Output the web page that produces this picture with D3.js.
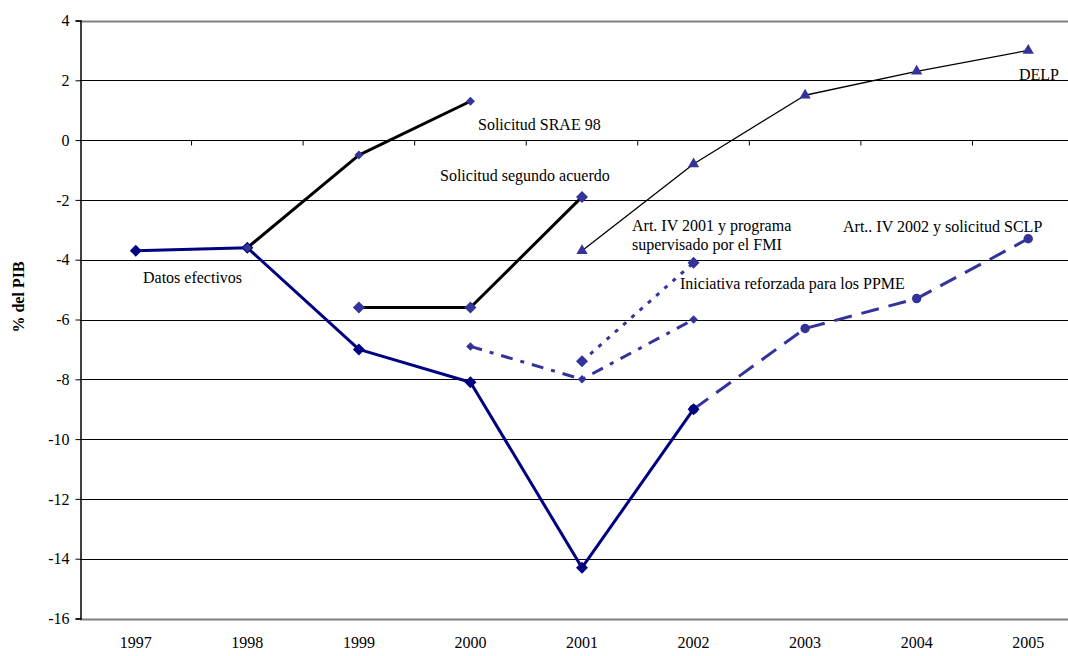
<!DOCTYPE html>
<html><head><meta charset="utf-8">
<script src="https://cdn.jsdelivr.net/npm/d3@7"></script>
<style>body{margin:0;background:#fff}svg{display:block}text{font-family:"Liberation Serif","Times New Roman",serif}</style>
</head><body><svg id="c" width="1068" height="656"></svg>
<script>
const years = ["1997","1998","1999","2000","2001","2002","2003","2004","2005"];
const yTicks = [4,2,0,-2,-4,-6,-8,-10,-12,-14,-16];
const datosEfectivos = [-3.7,-3.6,-7.0,-8.1,-14.3,-9.0,null,null,null];
const srae98 = [null,-3.6,-0.5,1.3,null,null,null,null,null];
const segundoAcuerdo = [null,null,-5.6,-5.6,-1.9,null,null,null,null];
const delp = [null,null,null,null,-3.7,-0.8,1.5,2.3,3.0];
const artIV2001 = [null,null,null,null,-7.4,-4.1,null,null,null];
const iniciativa = [null,null,null,-6.9,-8.0,-6.0,null,null,null];
const artIV2002 = [null,null,null,null,null,-9.0,-6.3,-5.3,-3.3];

const diamond = {draw(ctx,size){const r=Math.sqrt(size/2);ctx.moveTo(0,-r);ctx.lineTo(r,0);ctx.lineTo(0,r);ctx.lineTo(-r,0);ctx.closePath();}};

const series = [
  {name:"Art.. IV 2002 y solicitud SCLP", values:artIV2002, color:"#333399", width:3, dash:"18,10", symbol:d3.symbolCircle, size:70, mcolor:"#333399"},
  {name:"Datos efectivos", values:datosEfectivos, color:"#000080", width:3, dash:null, symbol:diamond, size:72, mcolor:"#000080"},
  {name:"Solicitud SRAE 98", values:srae98, color:"#000", width:3, dash:null, symbol:diamond, size:40, mcolor:"#333399"},
  {name:"Solicitud segundo acuerdo", values:segundoAcuerdo, color:"#000", width:3, dash:null, symbol:diamond, size:72, mcolor:"#333399"},
  {name:"DELP", values:delp, color:"#000", width:1.3, dash:null, symbol:d3.symbolTriangle, size:55, mcolor:"#333399"},
  {name:"Art. IV 2001 y programa supervisado por el FMI", values:artIV2001, color:"#333399", width:3, dash:"4,7", symbol:diamond, size:72, mcolor:"#333399"},
  {name:"Iniciativa reforzada para los PPME", values:iniciativa, color:"#333399", width:3, dash:"12,8,4,8", symbol:diamond, size:36, mcolor:"#333399"}
];

const labels = [
  {lines:["Solicitud SRAE 98"], x:478, y:130},
  {lines:["Solicitud segundo acuerdo"], x:440, y:181},
  {lines:["Art. IV 2001 y programa","supervisado por el FMI"], x:632, y:231},
  {lines:["Art.. IV 2002 y solicitud SCLP"], x:843, y:232},
  {lines:["Iniciativa reforzada para los PPME"], x:680, y:289},
  {lines:["Datos efectivos"], x:143, y:283},
  {lines:["DELP"], x:1019, y:80}
];

const svg = d3.select("#c");
const L = 80, R = 1084, T = 20.5, B = 618.5;
const x = d3.scaleBand().domain(years).range([L,R]);
const y = d3.scaleLinear().domain([-16,4]).range([B,T]);

svg.append("g").selectAll("line").data(yTicks).join("line")
  .attr("x1",L).attr("x2",R).attr("y1",d=>Math.round(y(d))+0.5).attr("y2",d=>Math.round(y(d))+0.5)
  .attr("stroke",d=>(d===4||d===-16)?"#808080":"#000")
  .attr("stroke-width",d=>(d===4||d===-16)?2:1);

const ya = svg.append("g").attr("transform",`translate(${L+0.5},0)`)
  .call(d3.axisLeft(y).tickValues(yTicks).tickSize(5).tickPadding(6).tickFormat(d=>d));
ya.attr("font-family",null);
ya.select(".domain").attr("stroke","#000").attr("stroke-width",1.5);
ya.selectAll("text").attr("font-size",16).attr("fill","#000");
ya.selectAll(".tick line").attr("stroke","#000");

const zeroY = Math.round(y(0))+0.5;
svg.append("g").selectAll("line").data(years.slice(1)).join("line")
  .attr("x1",d=>x(d)).attr("x2",d=>x(d)).attr("y1",zeroY).attr("y2",zeroY+5).attr("stroke","#000");
svg.append("g").selectAll("text").data(years).join("text")
  .attr("x",d=>x(d)+x.bandwidth()/2).attr("y",648).attr("text-anchor","middle")
  .attr("font-size",16).text(d=>d);

svg.append("text").attr("transform","translate(24,297) rotate(-90)").attr("text-anchor","middle")
  .attr("font-size",16).attr("font-weight","bold").text("% del PIB");

const cx = i => x(years[i]) + x.bandwidth()/2;
series.forEach(s=>{
  const pts = s.values.map((v,i)=>({i,v})).filter(p=>p.v!==null);
  const line = d3.line().x(p=>cx(p.i)).y(p=>y(p.v));
  svg.append("path").datum(pts).attr("d",line).attr("fill","none")
    .attr("stroke",s.color).attr("stroke-width",s.width)
    .attr("stroke-dasharray",s.dash).attr("stroke-linejoin","round");
  svg.append("g").selectAll("path").data(pts).join("path")
    .attr("transform",p=>`translate(${cx(p.i)},${y(p.v)})`)
    .attr("d",d3.symbol(s.symbol,s.size)).attr("fill",s.mcolor);
});

labels.forEach(l=>{
  const t = svg.append("text").attr("font-size",16).attr("x",l.x).attr("y",l.y);
  l.lines.forEach((ln,k)=>t.append("tspan").attr("x",l.x).attr("dy",k?19:0).text(ln));
});
</script></body></html>
